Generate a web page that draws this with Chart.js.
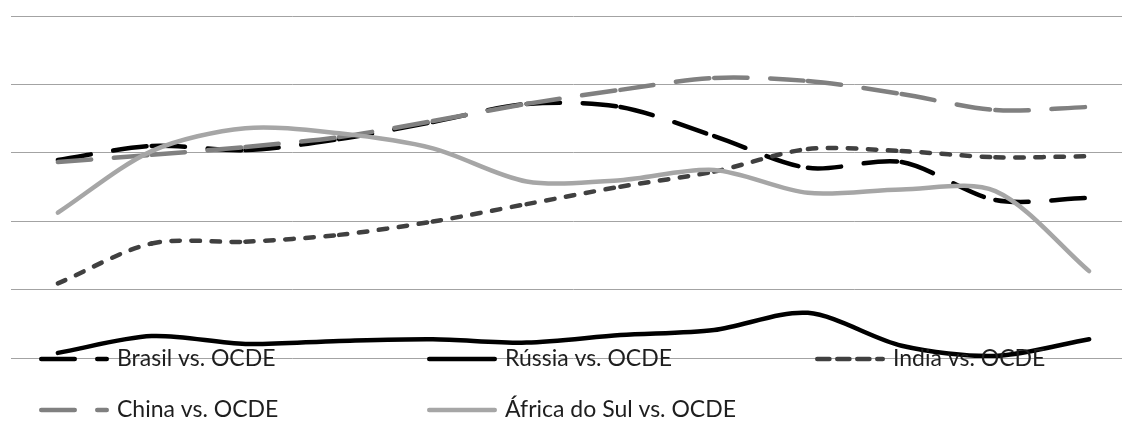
<!DOCTYPE html>
<html>
<head>
<meta charset="utf-8">
<script src="https://cdn.jsdelivr.net/npm/chart.js@4.4.1/dist/chart.umd.min.js"></script>
<style>
  html, body { margin: 0; padding: 0; background: #ffffff; overflow: hidden; }
  #wrap { position: absolute; left: 0; top: 0; width: 1136px; height: 421px; }
</style>
</head>
<body>
<div id="wrap"><canvas id="chart" width="1136" height="421"></canvas></div>
<script>
// Periods on the horizontal axis (not labelled on the chart)
const periods = ['1', '2', '3', '4', '5', '6', '7', '8', '9', '10', '11', '12'];

// Correlation of each economy with the OECD aggregate
const brasil = [0.579, 0.620, 0.608, 0.640, 0.690, 0.743, 0.734, 0.649, 0.556, 0.573, 0.462, 0.468];
const russia = [0.015, 0.064, 0.041, 0.050, 0.055, 0.045, 0.067, 0.082, 0.132, 0.036, 0.006, 0.055];
const india  = [0.218, 0.335, 0.340, 0.360, 0.399, 0.450, 0.501, 0.545, 0.611, 0.605, 0.587, 0.590];
const china  = [0.573, 0.594, 0.617, 0.646, 0.693, 0.743, 0.784, 0.819, 0.810, 0.772, 0.725, 0.734];
const africa = [0.425, 0.605, 0.672, 0.657, 0.613, 0.516, 0.520, 0.550, 0.483, 0.493, 0.488, 0.254];

// Value axis range and grid step
const yMin = 0, yMax = 1, yStep = 0.2;

const LINE_W = 4.5;
const series = [
  { label: 'Brasil vs. OCDE',        data: brasil, color: '#000000', dash: [33.5, 22.5], legendDash: [33.5, 22.5], col: 0, row: 0 },
  { label: 'Rússia vs. OCDE',        data: russia, color: '#000000', dash: [],           legendDash: [],           col: 1, row: 0 },
  { label: 'India vs. OCDE',         data: india,  color: '#404040', dash: [8.5, 11.5],  legendDash: [12.2, 7.8],  col: 2, row: 0 },
  { label: 'China vs. OCDE',         data: china,  color: '#808080', dash: [33.5, 22.5], legendDash: [33.5, 22.5], col: 0, row: 1 },
  { label: 'África do Sul vs. OCDE', data: africa, color: '#a6a6a6', dash: [],           legendDash: [],           col: 1, row: 1 }
];

// Legend grid: column starts, row centre lines, sample length, text gap
const legendCols = [39, 427, 815];
const legendRows = [359, 410];
const sampleLen = 70;
const textGap = 8;
const legendFont = '23px Lato, "Open Sans", sans-serif';

// Restart the dash pattern at every data point (each point-to-point segment is stroked on its own)
const restartDash = {
  borderDashOffset: ctx => (ctx.p0DataIndex % 2 ? 1e-6 : 0)
};

const legendPlugin = {
  id: 'flatLegend',
  afterDraw(chart) {
    const ctx = chart.ctx;
    ctx.save();
    series.forEach(s => {
      const x0 = legendCols[s.col];
      const y = legendRows[s.row];
      ctx.beginPath();
      ctx.strokeStyle = s.color;
      ctx.lineWidth = LINE_W;
      ctx.lineCap = 'round';
      ctx.setLineDash(s.legendDash);
      ctx.moveTo(x0 + LINE_W / 2, y);
      ctx.lineTo(x0 + sampleLen - LINE_W / 2, y);
      ctx.stroke();
      ctx.setLineDash([]);
      ctx.font = legendFont;
      ctx.fillStyle = '#1e1e1e';
      ctx.textBaseline = 'middle';
      ctx.textAlign = 'left';
      ctx.fillText(s.label, x0 + sampleLen + textGap, y);
    });
    ctx.restore();
  }
};

new Chart(document.getElementById('chart'), {
  type: 'line',
  data: {
    labels: periods,
    datasets: series.map((s, i) => ({
      label: s.label,
      data: s.data,
      borderColor: s.color,
      backgroundColor: s.color,
      borderWidth: LINE_W,
      borderDash: s.dash,
      borderCapStyle: 'round',
      borderJoinStyle: 'round',
      pointRadius: 0,
      pointHoverRadius: 0,
      tension: 0.3,
      fill: false,
      order: series.length - i,
      segment: s.dash.length ? restartDash : undefined
    }))
  },
  options: {
    responsive: false,
    animation: false,
    devicePixelRatio: 1,
    layout: { padding: { left: 11, right: 0, top: 16, bottom: 63 } },
    plugins: { legend: { display: false }, tooltip: { enabled: false } },
    scales: {
      x: { type: 'category', offset: true, display: false },
      y: {
        min: yMin, max: yMax,
        ticks: { display: false, stepSize: yStep },
        grid: { color: '#a3a3a3', lineWidth: 1, drawTicks: false },
        border: { display: false },
        afterFit(scale) { scale.width = 0; }
      }
    }
  },
  plugins: [legendPlugin]
});
</script>
</body>
</html>
